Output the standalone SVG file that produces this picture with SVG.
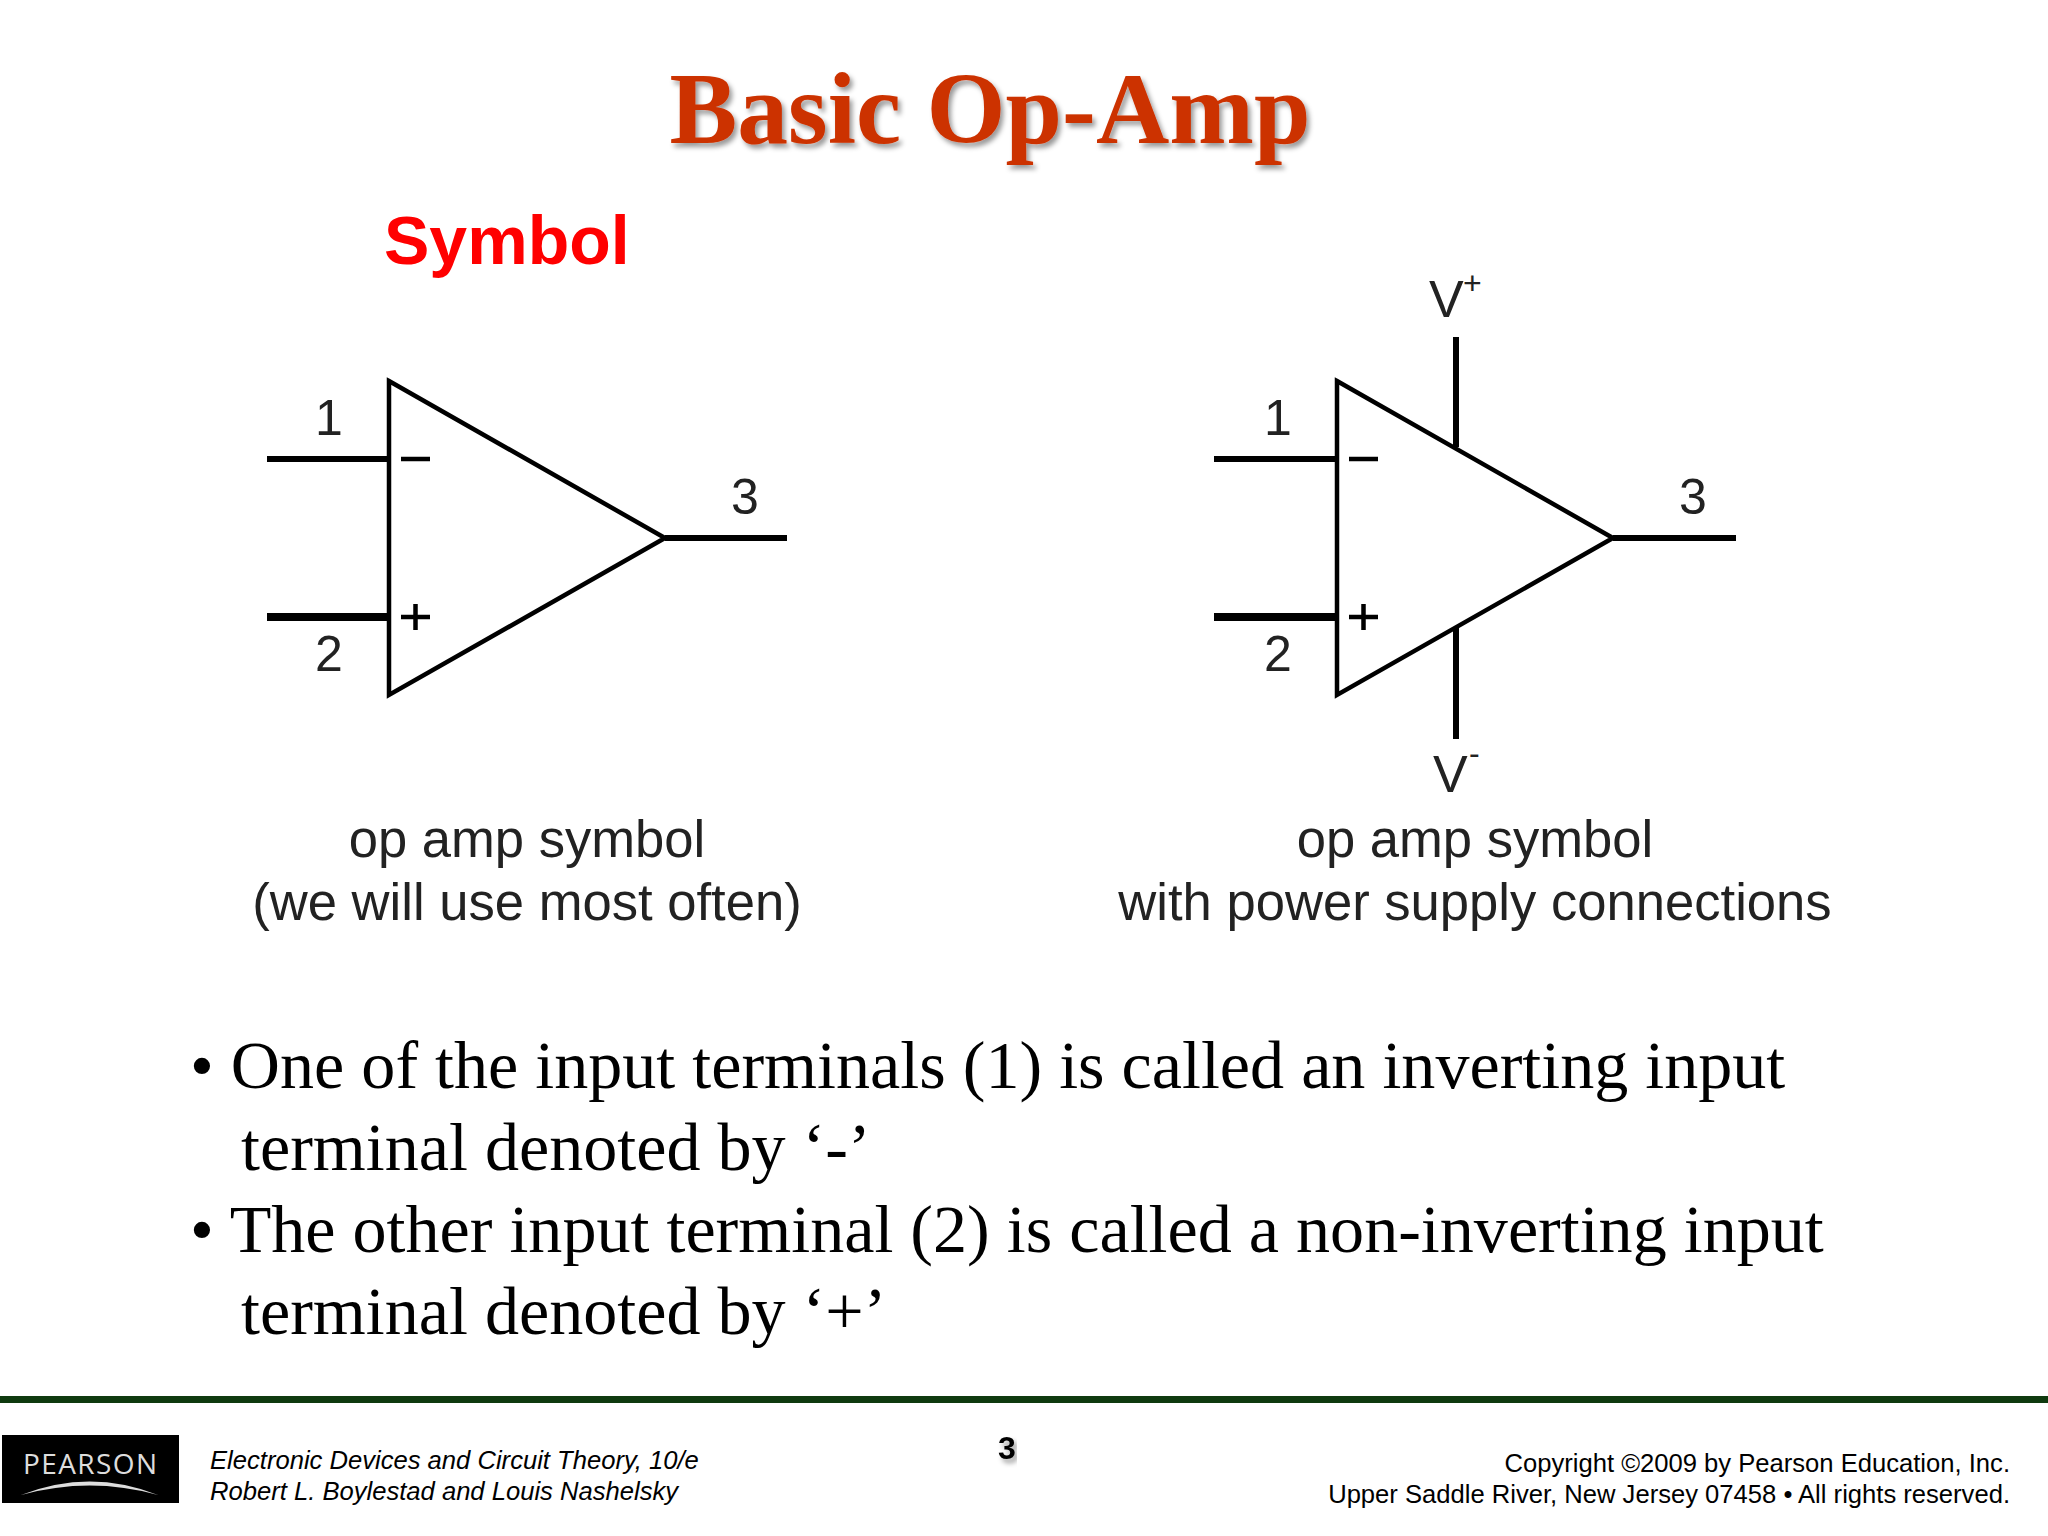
<svg xmlns="http://www.w3.org/2000/svg" width="2048" height="1536" viewBox="0 0 2048 1536">
<style>
.sym{font-family:"Liberation Sans",Arial,sans-serif;fill:#222}
.num{font-size:50px;text-anchor:middle}
.cap{font-size:52.600px;text-anchor:middle}
.body{font-family:"Liberation Serif","Times New Roman",serif;font-size:68.100px;fill:#000}
.tri{fill:none;stroke:#000;stroke-width:4.5;stroke-linejoin:miter}
.w{stroke:#000;fill:none;stroke-width:6}
.foot{font-family:"Liberation Sans",Arial,sans-serif;font-size:25.600px;fill:#000}
</style>
<defs>
<filter id="sh" x="-5%" y="-20%" width="110%" height="140%"><feDropShadow dx="3" dy="4" stdDeviation="2.5" flood-color="#000" flood-opacity=".4"/></filter>
</defs>
<rect width="2048" height="1536" fill="#fff"/>
<text id="title" x="990" y="143" text-anchor="middle" font-family="'Liberation Serif','Times New Roman',serif" font-weight="bold" font-size="102" fill="#cc3300" filter="url(#sh)" textLength="641" lengthAdjust="spacingAndGlyphs">Basic Op-Amp</text>
<text id="symbol" x="384" y="264" font-family="'Liberation Sans',Arial,sans-serif" font-weight="bold" font-size="68" fill="#ff0000">Symbol</text>

<g id="connectors">
<path class="w" d="M267 459H390"/>
<path class="w" style="stroke-width:8" d="M267 617H390"/>
<path class="w" d="M665 538H787"/>
<path class="w" d="M1214 459H1338"/>
<path class="w" style="stroke-width:8" d="M1214 617H1338"/>
<path class="w" d="M1613 538H1736"/>
<path class="w" d="M1456 337V447"/>
<path class="w" d="M1456 628V739"/>
</g>

<g id="opamp-left">
<polygon class="tri" points="389,381 665,538 389,695"/>
<path class="w" style="stroke-width:4.500" d="M401 459H430"/>
<path class="w" style="stroke-width:4.500" d="M401 617H430M415.500 604V630"/>
<text class="sym num" x="329" y="435">1</text>
<text class="sym num" x="329" y="671">2</text>
<text class="sym num" x="745" y="514">3</text>
<text class="sym cap" x="527" y="857">op amp symbol</text>
<text class="sym cap" x="527" y="920">(we will use most often)</text>
</g>

<g id="opamp-right">
<polygon class="tri" points="1337,381 1613,538 1337,695"/>
<path class="w" style="stroke-width:4.500" d="M1349 459H1378"/>
<path class="w" style="stroke-width:4.500" d="M1349 617H1378M1363.500 604V630"/>
<text class="sym num" x="1278" y="435">1</text>
<text class="sym num" x="1278" y="671">2</text>
<text class="sym num" x="1693" y="514">3</text>
<text class="sym" x="1429" y="317" font-size="52">V</text>
<text class="sym" x="1463" y="294" font-size="32">+</text>
<text class="sym" x="1433" y="792" font-size="52">V</text>
<text class="sym" x="1469" y="764" font-size="32">-</text>
<text class="sym cap" x="1475" y="857">op amp symbol</text>
<text class="sym cap" x="1475" y="920">with power supply connections</text>
</g>

<g id="bullets">
<text class="body" x="190" y="1088">• One of the input terminals (1) is called an inverting input</text>
<text class="body" x="241" y="1170">terminal denoted by ‘-’</text>
<text class="body" x="190" y="1252">• The other input terminal (2) is called a non-inverting input</text>
<text class="body" x="241" y="1334">terminal denoted by ‘+’</text>
</g>

<g id="footer">
<rect x="0" y="1396" width="2048" height="7" fill="#0f3a0f"/>
<g id="logo">
<rect x="2" y="1435" width="177" height="68" fill="#000"/>
<text x="90" y="1474" text-anchor="middle" font-family="'Open Sans',sans-serif" font-size="28" fill="#ddd" textLength="134" lengthAdjust="spacing">PEARSON</text>
<path d="M21 1495Q90 1468 158 1495Q90 1476 21 1495Z" fill="#ddd"/>
</g>
<text class="foot" x="210" y="1469" font-style="italic">Electronic Devices and Circuit Theory, 10/e</text>
<text class="foot" x="210" y="1500" font-style="italic">Robert L. Boylestad and Louis Nashelsky</text>
<text x="1007" y="1459" text-anchor="middle" font-family="'Liberation Sans',Arial,sans-serif" font-weight="bold" font-size="32" fill="#000" filter="url(#sh)">3</text>
<text class="foot" x="2010" y="1472" text-anchor="end">Copyright ©2009 by Pearson Education, Inc.</text>
<text class="foot" x="2010" y="1503" text-anchor="end">Upper Saddle River, New Jersey 07458 • All rights reserved.</text>
</g>
</svg>
